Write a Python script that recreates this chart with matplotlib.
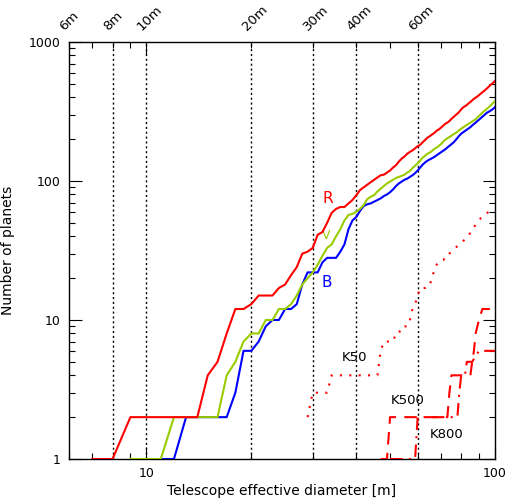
import numpy as np
import matplotlib
matplotlib.use("Agg")
import matplotlib.pyplot as plt
from matplotlib.ticker import FixedLocator, NullFormatter, FixedFormatter

# diameters [m] and number of planets
d_R = list(range(7, 101))
n_R = [1, 1, 2, 2, 2, 2, 2, 2, 4, 5, 8, 12, 12, 13, 15, 15, 15, 17, 18, 21,
       24, 30, 31, 33, 41, 43, 50, 59, 63, 65, 65, 69, 73, 79, 86, 90, 94, 98,
       102, 106, 110, 111, 115, 119, 125, 130, 138, 145, 150, 157, 162, 166,
       172, 178, 182, 190, 197, 205, 210, 216, 222, 230, 235, 242, 250, 258,
       263, 270, 280, 288, 297, 305, 315, 328, 338, 345, 352, 362, 370, 380,
       390, 398, 405, 415, 425, 435, 444, 455, 465, 478, 490, 500, 512, 525]

d_V = list(range(9, 101))
n_V = [1, 1, 1, 2, 2, 2, 2, 2, 4, 5, 7, 8, 8, 10, 10, 12, 12, 13, 15, 18,
       20, 22, 25, 29, 33, 35, 40, 45, 52, 57, 58, 60, 63, 67, 74, 77, 79,
       84, 88, 92, 96, 99, 102, 105, 107, 109, 111, 115, 118, 124, 129, 134,
       140, 147, 152, 157, 160, 165, 170, 174, 179, 184, 192, 198, 203, 207,
       212, 217, 221, 226, 232, 238, 243, 248, 253, 258, 263, 268, 273, 278,
       286, 294, 302, 310, 318, 325, 332, 340, 348, 357, 366, 375]

d_B = list(range(11, 101))
n_B = [1, 1, 2, 2, 2, 2, 2, 3, 6, 6, 7, 9, 10, 10, 12, 12, 13, 18, 22, 22,
       22, 26, 28, 28, 28, 31, 35, 45, 52, 55, 61, 66, 68, 69, 71, 73, 75,
       78, 80, 83, 87, 92, 96, 99, 102, 104, 107, 110, 114, 119, 125, 131,
       136, 140, 143, 146, 149, 153, 157, 161, 165, 169, 174, 179, 184, 189,
       196, 204, 212, 219, 224, 229, 234, 239, 244, 251, 257, 263, 270, 276,
       283, 290, 297, 304, 311, 315, 320, 326, 332, 340]

d_K50 = [29, 30, 31, 32, 33, 34] + list(range(35, 101))
n_K50 = [2, 3, 3, 3, 3, 4, 4, 4, 4, 4, 4, 4, 4, 4, 4, 4, 4, 4, 6, 7, 7, 7,
         7, 8, 8, 9, 9, 9, 10, 12, 13, 15, 17, 17, 17, 18, 18, 20, 23, 25,
         26, 27, 27, 28, 28, 30, 31, 32, 33, 34, 35, 36, 37, 38, 39, 40, 43,
         45, 47, 48, 50, 52, 54, 55, 57, 58, 59, 60, 60, 61, 62, 62]

d_K500 = [47, 48, 49, 50, 73, 74, 75, 85, 86, 87, 88, 89, 90, 91, 92, 100]
n_K500 = [1, 1, 1, 2, 2, 3, 4, 4, 5, 6, 8, 9, 10, 11, 12, 12]

d_K800 = [50, 59, 60, 78, 79, 80, 82, 83, 86, 88, 90, 100]
n_K800 = [1, 1, 2, 2, 3, 4, 4, 5, 5, 5.5, 6, 6]

top_ticks = [6, 8, 10, 20, 30, 40, 60]
vlines = [8, 10, 20, 30, 40, 60]

red = '#ff0000'
green = '#99cc00'
blue = '#0000ff'

plt.rcParams['font.family'] = ['DejaVu Sans']
fig = plt.figure(figsize=(5.06, 5.0), dpi=100)
ax = fig.add_axes([69 / 506, 1 - 459 / 500, 426 / 506, 417 / 500])

for v in vlines:
    ax.axvline(v, color='black', lw=1.0, ls=(0, (1.5, 2)), zorder=1)

ax.plot(d_B, n_B, color=blue, lw=1.5, zorder=3)
ax.plot(d_V, n_V, color=green, lw=1.5, zorder=4)
ax.plot(d_R, n_R, color=red, lw=1.5, zorder=5)
ax.plot(d_K50, n_K50, color=red, lw=1.5, ls=(0, (1, 3.5)), zorder=5)
ax.plot(d_K500, n_K500, color=red, lw=1.5, ls=(0, (6, 4)), zorder=5)
ax.plot(d_K800, n_K800, color=red, lw=1.5, ls=(0, (6, 3, 1, 3)), zorder=5)

ax.set_xscale('log')
ax.set_yscale('log')
ax.set_xlim(6, 100)
ax.set_ylim(1, 1000)

ax.xaxis.set_major_locator(FixedLocator([10, 100]))
ax.xaxis.set_major_formatter(FixedFormatter(['10', '100']))
ax.xaxis.set_minor_locator(FixedLocator([6, 7, 8, 9, 20, 30, 40, 50, 60, 70, 80, 90]))
ax.xaxis.set_minor_formatter(NullFormatter())
ax.yaxis.set_major_locator(FixedLocator([1, 10, 100, 1000]))
ax.yaxis.set_major_formatter(FixedFormatter(['1', '10', '100', '1000']))

ax.tick_params(which='both', direction='in', top=True, right=True,
               labelsize=9, width=0.8, pad=6)
ax.tick_params(which='major', length=9)
ax.tick_params(which='minor', length=4)
for s in ax.spines.values():
    s.set_linewidth(1.0)

for t in top_ticks:
    ax.text(t * 0.985, 1160, f'{t}m', rotation=45, ha='left', va='bottom',
            rotation_mode='anchor', fontsize=9.5)

ax.text(33.2, 75, 'R', color=red, fontsize=11, ha='center', va='center')
ax.text(32.7, 40.6, 'V', color=green, fontsize=9, ha='center', va='center')
ax.text(33.0, 18.6, 'B', color=blue, fontsize=11, ha='center', va='center')
ax.text(39.5, 5.4, 'K50', fontsize=9.5, ha='center', va='center')
ax.text(56, 2.62, 'K500', fontsize=9.5, ha='center', va='center')
ax.text(72.5, 1.49, 'K800', fontsize=9.5, ha='center', va='center')

ax.set_xlabel('Telescope effective diameter [m]', fontsize=10, labelpad=3)
ax.set_ylabel('Number of planets', fontsize=10, labelpad=10)

fig.savefig('out.png', dpi=100)
